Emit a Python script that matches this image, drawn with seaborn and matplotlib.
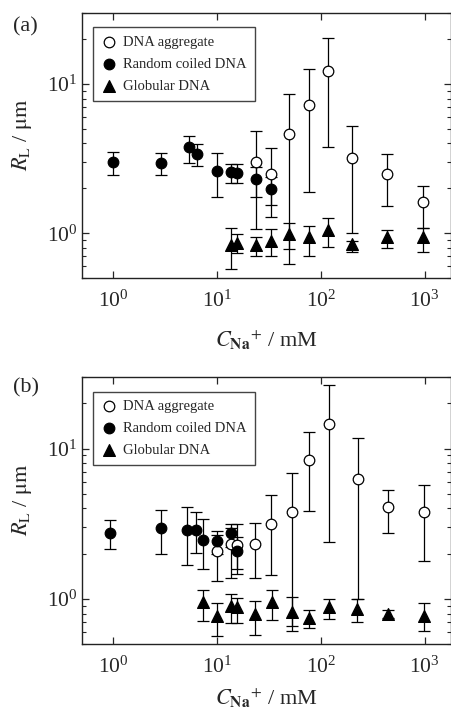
import numpy as np
import pandas as pd
import matplotlib
matplotlib.use("Agg")
import matplotlib.pyplot as plt
import seaborn as sns

# --------------------------------------------------------------
# datos  (C_Na+ en mM, R_L en um)
# --------------------------------------------------------------
# panel (a)
agg_a_x = [23.6, 33.5, 50, 78, 117, 200, 434, 964]
agg_a_y = [2.99, 2.50, 4.64, 7.26, 12.3, 3.19, 2.49, 1.61]
agg_a_hi = [4.88, 3.72, 8.6, 12.6, 20.5, 5.27, 3.41, 2.08]
agg_a_lo = [1.06, 1.29, 0.62, 1.90, 3.81, 1.00, 1.52, 1.09]

rc_a_x = [1.0, 2.92, 5.39, 6.44, 10, 13.6, 15.7, 23.6, 33.5]
rc_a_y = [2.99, 2.95, 3.81, 3.41, 2.63, 2.57, 2.53, 2.31, 1.99]
rc_a_hi = [3.53, 3.47, 4.50, 3.97, 3.44, 2.90, 2.90, 2.80, 2.40]
rc_a_lo = [2.46, 2.46, 2.95, 2.84, 1.76, 2.17, 2.17, 1.76, 1.55]

gl_a_x = [13.6, 15.7, 23.6, 33.5, 50, 78, 117, 200, 434, 964]
gl_a_y = [0.834, 0.865, 0.83, 0.89, 0.985, 0.94, 1.05, 0.85, 0.94, 0.94]
gl_a_hi = [1.08, 0.99, 0.94, 1.06, 1.17, 1.12, 1.27, 0.89, 1.05, 1.09]
gl_a_lo = [0.58, 0.74, 0.70, 0.70, 0.78, 0.70, 0.81, 0.745, 0.79, 0.75]

# panel (b)
agg_b_x = [10, 13.6, 15.7, 23.4, 33.4, 53, 78, 119, 227, 447, 980]
agg_b_y = [2.07, 2.33, 2.29, 2.31, 3.16, 3.78, 8.45, 14.5, 6.31, 4.08, 3.78]
agg_b_hi = [2.67, 3.16, 3.16, 3.21, 4.93, 6.92, 12.9, 26.4, 11.8, 5.27, 5.75]
agg_b_lo = [1.31, 1.38, 1.47, 1.38, 1.45, 0.61, 3.82, 2.39, 1.00, 2.75, 1.80]

rc_b_x = [0.93, 2.92, 5.2, 6.3, 7.4, 10, 13.6, 15.7]
rc_b_y = [2.74, 2.96, 2.88, 2.88, 2.48, 2.42, 2.75, 2.07]
rc_b_hi = [3.33, 3.92, 4.08, 3.78, 3.41, 2.85, 2.97, 2.60]
rc_b_lo = [2.15, 2.00, 1.69, 2.01, 1.58, 2.00, 2.20, 1.58]

gl_b_x = [7.4, 10, 13.6, 15.7, 23.4, 34.1, 53, 78, 119, 224, 447, 990]
gl_b_y = [0.95, 0.77, 0.90, 0.88, 0.79, 0.95, 0.82, 0.75, 0.88, 0.86, 0.79, 0.77]
gl_b_hi = [1.15, 0.94, 1.08, 1.02, 0.97, 1.14, 1.03, 0.84, 1.00, 1.00, 0.84, 0.94]
gl_b_lo = [0.71, 0.57, 0.69, 0.69, 0.58, 0.72, 0.66, 0.64, 0.74, 0.70, 0.75, 0.61]

labels = ["DNA aggregate", "Random coiled DNA", "Globular DNA"]
panel_tags = ["(a)", "(b)"]

# --------------------------------------------------------------
# estilo
# --------------------------------------------------------------
sns.set_style("ticks")
plt.rcParams["font.family"] = ["Liberation Serif", "DejaVu Serif"]
plt.rcParams["mathtext.fontset"] = "stix"
plt.rcParams["axes.edgecolor"] = "#222222"
plt.rcParams["axes.linewidth"] = 1.0


def build_frame(x, y, lo, hi, name):
    return pd.DataFrame({"conc": x, "R": y, "lo": lo, "hi": hi, "state": name})


paneles = [
    [build_frame(agg_a_x, agg_a_y, agg_a_lo, agg_a_hi, labels[0]),
     build_frame(rc_a_x, rc_a_y, rc_a_lo, rc_a_hi, labels[1]),
     build_frame(gl_a_x, gl_a_y, gl_a_lo, gl_a_hi, labels[2])],
    [build_frame(agg_b_x, agg_b_y, agg_b_lo, agg_b_hi, labels[0]),
     build_frame(rc_b_x, rc_b_y, rc_b_lo, rc_b_hi, labels[1]),
     build_frame(gl_b_x, gl_b_y, gl_b_lo, gl_b_hi, labels[2])],
]

estilos = {
    labels[0]: dict(marker="o", color="white", edgecolor="black", s=58),
    labels[1]: dict(marker="o", color="black", edgecolor="black", s=58),
    labels[2]: dict(marker="^", color="black", edgecolor="black", s=72),
}

fig = plt.figure(figsize=(4.51, 7.15), dpi=100)
posiciones = [[0.181, 0.611, 0.818, 0.371], [0.181, 0.099, 0.818, 0.374]]
tag_y = [1 - 27 / 715, 1 - 388 / 715]
xlabel_pad = [12, 6]

for k, (series, pos) in enumerate(zip(paneles, posiciones)):
    ax = fig.add_axes(pos)
    # barras de error primero, marcadores encima
    for df in series:
        err = np.vstack([df["R"] - df["lo"], df["hi"] - df["R"]])
        ax.errorbar(df["conc"], df["R"], yerr=err, fmt="none", ecolor="black",
                    elinewidth=0.9, capsize=4, capthick=0.9, zorder=2)
    for df in series:
        st = estilos[df["state"].iloc[0]]
        sns.scatterplot(data=df, x="conc", y="R", ax=ax, marker=st["marker"],
                        color=st["color"], edgecolor=st["edgecolor"], s=st["s"],
                        linewidth=0.9, label=df["state"].iloc[0], zorder=3)

    ax.set_xscale("log")
    ax.set_yscale("log")
    ax.set_xlim(0.5, 1780)
    ax.set_ylim(0.5, 30)
    ax.xaxis.set_minor_locator(matplotlib.ticker.NullLocator())
    ax.tick_params(which="both", direction="in", top=True, right=True)
    ax.tick_params(which="major", length=5, width=0.9, labelsize=15.5)
    ax.tick_params(which="minor", length=3, width=0.8)
    ax.tick_params(axis="x", pad=9)
    ax.tick_params(axis="y", pad=3)

    ax.set_xlabel(r"$C_{\mathbf{Na}}{}^{+}$ / mM", fontsize=16, labelpad=xlabel_pad[k])
    ax.set_ylabel(r"$R_{\mathrm{L}}$ / $\mathrm{\mu m}$", fontsize=16)
    ax.yaxis.set_label_coords(-0.13, 0.54)

    leg = ax.legend(loc="upper left", bbox_to_anchor=(0.03, 0.945), borderaxespad=0,
                    fontsize=10.5, frameon=True, fancybox=False, framealpha=1,
                    edgecolor="#444444", handletextpad=0.35, labelspacing=0.62,
                    borderpad=0.55, handlelength=1.2)
    leg.get_frame().set_linewidth(1.0)

    fig.text(0.028, tag_y[k], panel_tags[k], fontsize=16, va="center", ha="left")

fig.savefig("out.png", dpi=100)
